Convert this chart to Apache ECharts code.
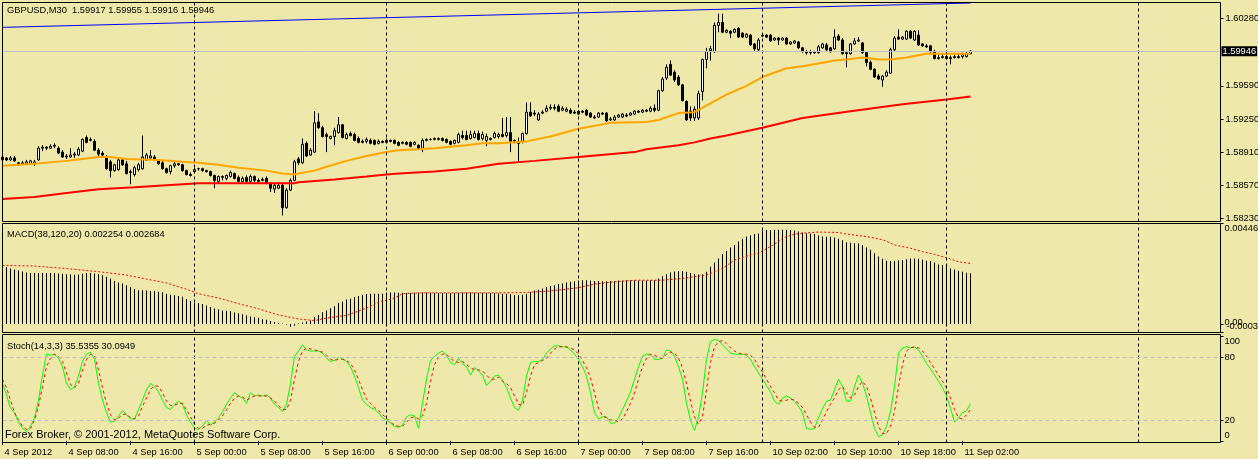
<!DOCTYPE html>
<html><head><meta charset="utf-8">
<script src="https://cdn.jsdelivr.net/npm/echarts@6/dist/echarts.min.js"></script>
<style>html,body{margin:0;padding:0;background:#EEE8AA;}#c{width:1258px;height:459px;}</style>
</head><body><div id="c"></div><script>
// ---- data ----
// candles: [open, close, low, high]
const candles = [
[1.5883,1.5886,1.5882,1.5888],[1.5885,1.5883,1.5882,1.5886],[1.5883,1.5885,1.5882,1.5887],[1.5885,1.5882,1.5881,1.5887],[1.5880,1.5879,1.5877,1.5881],
[1.5879,1.5880,1.5878,1.5882],[1.5879,1.5881,1.5878,1.5883],[1.5879,1.5882,1.5878,1.5883],[1.5879,1.5881,1.5877,1.5883],[1.5883,1.5895,1.5882,1.5897],
[1.5895,1.5896,1.5892,1.5898],[1.5896,1.5895,1.5893,1.5897],[1.5895,1.5897,1.5894,1.5899],[1.5897,1.5898,1.5895,1.5900],[1.5895,1.5890,1.5889,1.5897],
[1.5891,1.5886,1.5885,1.5893],[1.5886,1.5887,1.5884,1.5889],[1.5886,1.5888,1.5885,1.5895],[1.5888,1.5889,1.5885,1.5891],[1.5888,1.5894,1.5887,1.5896],
[1.5892,1.5904,1.5891,1.5905],[1.5906,1.5901,1.5900,1.5908],[1.5903,1.5904,1.5902,1.5906],[1.5902,1.5893,1.5892,1.5904],[1.5893,1.5889,1.5887,1.5895],
[1.5890,1.5888,1.5885,1.5892],[1.5886,1.5874,1.5873,1.5888],[1.5881,1.5872,1.5865,1.5883],[1.5872,1.5878,1.5871,1.5879],[1.5873,1.5883,1.5872,1.5885],
[1.5883,1.5878,1.5877,1.5885],[1.5879,1.5869,1.5868,1.5882],[1.5870,1.5871,1.5858,1.5873],[1.5868,1.5875,1.5866,1.5877],[1.5873,1.5878,1.5871,1.5880],
[1.5874,1.5886,1.5873,1.5908],[1.5883,1.5888,1.5882,1.5890],[1.5885,1.5887,1.5884,1.5893],[1.5886,1.5883,1.5882,1.5888],[1.5883,1.5879,1.5878,1.5884],
[1.5880,1.5874,1.5873,1.5882],[1.5874,1.5870,1.5869,1.5875],[1.5871,1.5877,1.5868,1.5878],[1.5877,1.5879,1.5875,1.5881],[1.5879,1.5878,1.5877,1.5880],
[1.5878,1.5872,1.5871,1.5879],[1.5872,1.5868,1.5867,1.5873],[1.5868,1.5867,1.5866,1.5870],[1.5871,1.5873,1.5870,1.5875],[1.5874,1.5874,1.5872,1.5875],
[1.5874,1.5872,1.5871,1.5875],[1.5872,1.5871,1.5870,1.5873],[1.5871,1.5867,1.5866,1.5872],[1.5867,1.5862,1.5854,1.5868],[1.5861,1.5866,1.5859,1.5867],
[1.5865,1.5866,1.5862,1.5867],[1.5864,1.5867,1.5862,1.5868],[1.5866,1.5870,1.5865,1.5872],[1.5869,1.5864,1.5863,1.5870],[1.5865,1.5861,1.5860,1.5867],
[1.5861,1.5864,1.5860,1.5866],[1.5865,1.5861,1.5860,1.5867],[1.5861,1.5866,1.5859,1.5868],[1.5866,1.5862,1.5860,1.5867],[1.5862,1.5861,1.5859,1.5864],
[1.5862,1.5863,1.5861,1.5865],[1.5864,1.5859,1.5858,1.5866],[1.5859,1.5854,1.5850,1.5860],[1.5853,1.5857,1.5849,1.5859],[1.5854,1.5857,1.5853,1.5860],
[1.5857,1.5834,1.5826,1.5859],[1.5834,1.5852,1.5833,1.5854],[1.5852,1.5862,1.5851,1.5864],[1.5862,1.5881,1.5861,1.5883],[1.5884,1.5880,1.5878,1.5886],
[1.5880,1.5899,1.5879,1.5905],[1.5900,1.5887,1.5886,1.5902],[1.5888,1.5893,1.5887,1.5895],[1.5891,1.5921,1.5890,1.5933],[1.5922,1.5916,1.5915,1.5931],
[1.5916,1.5907,1.5906,1.5918],[1.5909,1.5907,1.5891,1.5911],[1.5905,1.5907,1.5904,1.5908],[1.5907,1.5913,1.5898,1.5916],[1.5911,1.5919,1.5910,1.5927],
[1.5919,1.5906,1.5905,1.5920],[1.5905,1.5909,1.5904,1.5911],[1.5910,1.5908,1.5907,1.5912],[1.5909,1.5903,1.5902,1.5911],[1.5905,1.5901,1.5900,1.5907],
[1.5902,1.5901,1.5900,1.5904],[1.5902,1.5904,1.5900,1.5906],[1.5903,1.5900,1.5899,1.5905],[1.5903,1.5899,1.5898,1.5904],[1.5900,1.5902,1.5899,1.5904],
[1.5902,1.5901,1.5900,1.5903],[1.5901,1.5903,1.5900,1.5905],[1.5903,1.5902,1.5901,1.5904],[1.5903,1.5900,1.5899,1.5904],[1.5901,1.5898,1.5897,1.5902],
[1.5900,1.5901,1.5899,1.5902],[1.5901,1.5899,1.5898,1.5902],[1.5901,1.5897,1.5896,1.5902],[1.5899,1.5901,1.5898,1.5902],[1.5898,1.5895,1.5894,1.5899],
[1.5895,1.5903,1.5891,1.5905],[1.5903,1.5904,1.5902,1.5905],[1.5904,1.5904,1.5903,1.5905],[1.5904,1.5905,1.5903,1.5906],[1.5904,1.5905,1.5903,1.5906],
[1.5905,1.5903,1.5902,1.5906],[1.5904,1.5901,1.5900,1.5905],[1.5902,1.5899,1.5898,1.5903],[1.5900,1.5903,1.5899,1.5904],[1.5901,1.5909,1.5900,1.5911],
[1.5908,1.5906,1.5904,1.5913],[1.5908,1.5904,1.5903,1.5913],[1.5905,1.5909,1.5904,1.5913],[1.5906,1.5910,1.5905,1.5913],[1.5910,1.5904,1.5903,1.5913],
[1.5905,1.5909,1.5903,1.5912],[1.5903,1.5907,1.5897,1.5910],[1.5905,1.5904,1.5903,1.5906],[1.5906,1.5910,1.5905,1.5912],[1.5907,1.5909,1.5905,1.5911],
[1.5909,1.5907,1.5906,1.5926],[1.5908,1.5911,1.5906,1.5927],[1.5911,1.5902,1.5891,1.5927],[1.5902,1.5903,1.5900,1.5904],[1.5901,1.5900,1.5881,1.5906],
[1.5902,1.5910,1.5900,1.5911],[1.5910,1.5932,1.5909,1.5942],[1.5932,1.5928,1.5927,1.5942],[1.5931,1.5930,1.5928,1.5934],[1.5924,1.5930,1.5923,1.5932],
[1.5931,1.5932,1.5930,1.5934],[1.5933,1.5936,1.5932,1.5939],[1.5936,1.5937,1.5934,1.5940],[1.5937,1.5936,1.5934,1.5940],[1.5938,1.5933,1.5932,1.5940],
[1.5934,1.5936,1.5933,1.5938],[1.5933,1.5935,1.5932,1.5937],[1.5934,1.5931,1.5930,1.5936],[1.5932,1.5931,1.5930,1.5934],[1.5930,1.5933,1.5929,1.5934],
[1.5933,1.5932,1.5931,1.5934],[1.5934,1.5929,1.5928,1.5935],[1.5931,1.5927,1.5926,1.5932],[1.5927,1.5926,1.5925,1.5929],[1.5927,1.5931,1.5926,1.5932],
[1.5931,1.5930,1.5929,1.5932],[1.5931,1.5923,1.5922,1.5932],[1.5924,1.5925,1.5923,1.5927],[1.5924,1.5927,1.5923,1.5929],[1.5927,1.5929,1.5926,1.5930],
[1.5927,1.5930,1.5926,1.5931],[1.5929,1.5928,1.5927,1.5931],[1.5929,1.5931,1.5928,1.5932],[1.5930,1.5933,1.5929,1.5934],[1.5933,1.5932,1.5931,1.5934],
[1.5932,1.5934,1.5931,1.5935],[1.5934,1.5933,1.5932,1.5935],[1.5933,1.5936,1.5932,1.5938],[1.5936,1.5934,1.5932,1.5940],[1.5934,1.5954,1.5933,1.5955],
[1.5954,1.5966,1.5953,1.5968],[1.5967,1.5978,1.5965,1.5981],[1.5981,1.5970,1.5969,1.5985],[1.5973,1.5965,1.5963,1.5975],[1.5968,1.5960,1.5959,1.5970],
[1.5960,1.5944,1.5943,1.5961],[1.5943,1.5924,1.5923,1.5944],[1.5933,1.5926,1.5923,1.5938],[1.5926,1.5935,1.5923,1.5938],[1.5926,1.5951,1.5924,1.5954],
[1.5953,1.5986,1.5944,1.5987],[1.5986,1.5994,1.5977,1.5998],[1.5995,1.5997,1.5985,1.6000],[1.5994,1.6021,1.5993,1.6024],[1.6021,1.6024,1.6014,1.6033],
[1.6024,1.6014,1.6013,1.6033],[1.6014,1.6016,1.6013,1.6017],[1.6015,1.6013,1.6008,1.6016],[1.6014,1.6017,1.6013,1.6018],[1.6018,1.6009,1.6008,1.6019],
[1.6013,1.6009,1.6008,1.6014],[1.6009,1.6012,1.6008,1.6013],[1.6011,1.6001,1.6000,1.6012],[1.6002,1.5997,1.5994,1.6003],[1.5996,1.6006,1.5994,1.6008],
[1.6010,1.6011,1.6009,1.6012],[1.6011,1.6009,1.6008,1.6012],[1.6011,1.6005,1.6004,1.6012],[1.6006,1.6008,1.6005,1.6009],[1.6008,1.6006,1.6001,1.6009],
[1.6006,1.6008,1.6005,1.6009],[1.6008,1.6002,1.6001,1.6009],[1.6002,1.6004,1.6001,1.6005],[1.6003,1.6005,1.6002,1.6006],[1.6004,1.5998,1.5997,1.6005],
[1.5998,1.5994,1.5993,1.5999],[1.5994,1.5993,1.5991,1.5996],[1.5993,1.5994,1.5991,1.5996],[1.5994,1.5993,1.5992,1.5995],[1.5993,1.5999,1.5992,1.6001],
[1.5998,1.6002,1.5997,1.6003],[1.6001,1.5996,1.5995,1.6003],[1.5998,1.5994,1.5993,1.5999],[1.5997,1.6009,1.5996,1.6017],[1.6010,1.6006,1.6005,1.6012],
[1.6006,1.5992,1.5991,1.6008],[1.5993,1.5992,1.5978,1.5995],[1.5992,1.6002,1.5991,1.6003],[1.6002,1.6005,1.6001,1.6008],[1.6005,1.6006,1.6004,1.6009],
[1.6003,1.5993,1.5992,1.6004],[1.5993,1.5983,1.5979,1.5994],[1.5983,1.5976,1.5975,1.5985],[1.5976,1.5968,1.5967,1.5977],[1.5969,1.5966,1.5965,1.5971],
[1.5965,1.5969,1.5958,1.5970],[1.5969,1.5973,1.5968,1.5975],[1.5972,1.5996,1.5971,1.5998],[1.5996,1.6008,1.5995,1.6010],[1.6009,1.6007,1.6006,1.6017],
[1.6007,1.6009,1.6006,1.6010],[1.6007,1.6015,1.6006,1.6016],[1.6015,1.6008,1.6007,1.6016],[1.6006,1.6015,1.6005,1.6016],[1.6011,1.6001,1.6000,1.6016],
[1.6002,1.6000,1.5999,1.6003],[1.6000,1.5999,1.5998,1.6002],[1.6000,1.5994,1.5993,1.6001],[1.5994,1.5987,1.5986,1.5996],[1.5987,1.5988,1.5986,1.5991],
[1.5988,1.5989,1.5987,1.5992],[1.5989,1.5987,1.5986,1.5992],[1.5987,1.5988,1.5981,1.5990],[1.5988,1.5989,1.5987,1.5991],[1.5988,1.5989,1.5987,1.5992],
[1.5989,1.5991,1.5987,1.5993],[1.5989,1.5992,1.5988,1.5994],[1.59917,1.59946,1.59916,1.59955]
];
// moving averages and trend line: [barIndex, price]
const maFast = [[0,1.5877],[8,1.5879],[16,1.5882],[20,1.5884],[24,1.5886],[27,1.5886],[31,1.5884],[39,1.5883],[45,1.5881],[49,1.5880],[54,1.5878],[59,1.5875],[66,1.5872],[70,1.5869],[73,1.5868],[74,1.5869],[78,1.5872],[81,1.5876],[86,1.5882],[91,1.5887],[96,1.5891],[99,1.5893],[104,1.5894],[108,1.5895],[116,1.5898],[120,1.5900],[124,1.5900],[131,1.5902],[137,1.5907],[144,1.5915],[152,1.5921],[161,1.5922],[164,1.5924],[169,1.5931],[173,1.5932],[177,1.5941],[181,1.5950],[186,1.5959],[190,1.5968],[196,1.5977],[200,1.5979],[204,1.5982],[208,1.5985],[211,1.5986],[215,1.5988],[219,1.5986],[222,1.5986],[226,1.5988],[231,1.5992],[236,1.5992],[242,1.5992]];
const maSlow = [[0,1.5843],[8,1.5845],[16,1.5849],[24,1.5853],[33,1.5855],[41,1.5857],[49,1.5859],[58,1.5859],[66,1.5859],[73,1.5859],[74,1.5860],[83,1.5863],[91,1.5866],[96,1.5868],[99,1.5869],[108,1.5871],[116,1.5874],[124,1.5879],[133,1.5882],[144,1.5886],[158,1.5891],[161,1.5894],[169,1.5898],[173,1.5901],[177,1.5905],[181,1.5908],[190,1.5916],[200,1.5926],[212,1.5933],[225,1.5940],[236,1.5945],[242,1.5948]];
const trendLine = [[0,1.6019],[242,1.6044]];
const bidPrice = 1.59946;
// MACD histogram per bar
const macdHist = [
0.00257,0.00253,0.00246,0.00242,0.00237,0.00233,0.00228,0.00226,0.00226,0.00226,
0.00226,0.00226,0.00226,0.00226,0.00224,0.00223,0.00221,0.00220,0.00218,0.00220,
0.00223,0.00226,0.00226,0.00224,0.00221,0.00217,0.00209,0.00202,0.00191,0.00184,
0.00179,0.00172,0.00163,0.00155,0.00150,0.00150,0.00148,0.00146,0.00146,0.00143,
0.00141,0.00134,0.00130,0.00127,0.00124,0.00121,0.00111,0.00102,0.00094,0.00093,
0.00088,0.00082,0.00075,0.00069,0.00065,0.00060,0.00058,0.00056,0.00051,0.00047,
0.00043,0.00039,0.00033,0.00030,0.00027,0.00022,0.00018,0.00013,0.00009,0.00004,
0.00001,-0.00003,-0.00013,-0.00008,0.00002,0.00006,0.00011,0.00015,0.00030,0.00040,
0.00052,0.00060,0.00070,0.00079,0.00094,0.00100,0.00109,0.00112,0.00120,0.00124,
0.00130,0.00133,0.00134,0.00134,0.00134,0.00134,0.00139,0.00139,0.00139,0.00138,
0.00138,0.00137,0.00137,0.00138,0.00138,0.00139,0.00139,0.00138,0.00138,0.00137,
0.00137,0.00137,0.00136,0.00137,0.00138,0.00139,0.00139,0.00139,0.00138,0.00138,
0.00138,0.00138,0.00137,0.00137,0.00136,0.00134,0.00134,0.00132,0.00129,0.00129,
0.00130,0.00134,0.00142,0.00148,0.00152,0.00157,0.00163,0.00168,0.00172,0.00177,
0.00179,0.00184,0.00187,0.00190,0.00193,0.00194,0.00194,0.00193,0.00191,0.00191,
0.00190,0.00190,0.00191,0.00191,0.00193,0.00193,0.00194,0.00194,0.00194,0.00193,
0.00193,0.00193,0.00194,0.00194,0.00202,0.00212,0.00221,0.00228,0.00233,0.00235,
0.00235,0.00232,0.00226,0.00221,0.00220,0.00221,0.00232,0.00254,0.00273,0.00291,
0.00309,0.00324,0.00339,0.00351,0.00366,0.00378,0.00388,0.00394,0.00399,0.00402,
0.00415,0.00417,0.00417,0.00418,0.00418,0.00418,0.00418,0.00417,0.00415,0.00411,
0.00406,0.00403,0.00402,0.00399,0.00393,0.00388,0.00387,0.00387,0.00384,0.00378,
0.00372,0.00363,0.00360,0.00358,0.00357,0.00351,0.00339,0.00329,0.00314,0.00299,
0.00289,0.00281,0.00280,0.00281,0.00282,0.00284,0.00287,0.00290,0.00290,0.00289,
0.00285,0.00281,0.00280,0.00273,0.00264,0.00262,0.00258,0.00246,0.00242,0.00236,
0.00232,0.00227,0.002254
];
// MACD signal: [barIndex, value]
const macdSignal = [[0,0.00260],[8,0.00257],[16,0.00246],[24,0.00232],[31,0.00217],[36,0.00199],[41,0.00182],[46,0.00154],[49,0.00134],[54,0.00115],[59,0.00090],[64,0.00067],[69,0.00040],[74,0.00022],[78,0.00015],[81,0.00026],[86,0.00038],[91,0.00070],[94,0.00097],[98,0.00115],[100,0.00134],[104,0.00138],[124,0.00138],[130,0.00139],[136,0.00145],[140,0.00152],[144,0.00161],[148,0.00177],[153,0.00187],[158,0.00194],[165,0.00194],[170,0.00202],[176,0.00217],[180,0.00246],[183,0.00284],[187,0.00306],[189,0.00314],[193,0.00354],[195,0.00381],[198,0.00399],[200,0.00403],[204,0.00408],[209,0.00406],[211,0.00399],[216,0.00388],[220,0.00374],[223,0.00351],[227,0.00336],[230,0.00321],[233,0.00309],[236,0.00294],[239,0.00276],[242,0.002684]];
// Stochastic main / signal per bar
const stochMain = [
55,44,31,27,18,12,9,14,22,39, 63,83,82,83,79,71,55,49,52,62, 76,83,85,78,55,39,27,18,19,24,
29,25,21,21,30,39,49,55,52,47, 39,32,30,35,38,35,25,18,12,11, 14,20,15,18,22,28,35,41,46,43,
41,36,46,43,44,43,44,41,35,32, 28,35,55,81,86,92,87,86,86,86, 84,79,76,77,80,79,76,71,62,51,
39,35,32,30,27,22,20,17,14,13, 15,23,25,24,12,36,59,77,81,84, 86,82,75,73,79,74,71,63,70,67,
63,53,57,62,63,58,51,41,32,29, 39,62,75,76,76,78,84,88,91,91, 90,90,87,83,78,71,62,46,27,21,
23,23,17,17,22,30,38,47,59,71, 81,83,83,78,78,79,87,86,81,71, 59,36,20,10,23,46,78,95,97,96,
92,88,84,83,83,83,82,78,71,65, 59,53,47,38,35,41,43,41,38,33, 27,12,11,12,22,31,38,39,49,59,
52,38,38,52,63,55,43,27,12,4, 6,14,28,52,84,89,90,89,90,87, 81,74,69,63,57,51,43,31,18,22,
27,29,35.5355
];
const stochSignal = [
59,51,39,27,20,14,11,12,20,33, 52,71,79,83,81,76,65,54,51,55, 68,78,83,81,68,51,36,25,20,22,
25,26,22,21,24,33,41,49,53,52, 46,38,34,34,36,36,30,23,16,12, 12,15,16,17,20,24,30,36,41,43,
42,39,41,43,43,43,43,41,38,34, 30,30,39,59,76,86,89,88,87,86, 85,82,78,77,78,78,77,74,68,59,
49,40,36,32,29,25,22,18,15,14, 14,18,22,23,21,24,36,57,73,80, 83,83,79,76,75,76,73,70,68,68,
67,63,59,59,61,57,55,51,43,35, 34,46,62,73,75,77,79,84,88,90, 90,90,89,87,83,77,70,60,46,31,
24,22,20,20,18,21,28,36,46,59, 71,79,83,82,80,79,83,85,84,79, 70,55,38,23,16,23,49,75,90,95,
96,93,89,86,84,83,83,82,78,71, 66,59,52,46,39,38,39,40,39,36, 32,25,18,13,13,20,28,35,41,49,
52,46,41,44,52,57,52,41,27,14, 7,7,14,28,52,73,86,89,90,89, 86,81,75,69,63,57,51,41,30,22,
21,25,30.0949
];
const stochLevels = [20, 80];
// axis tick labels
const timeLabels = ['4 Sep 2012','4 Sep 08:00','4 Sep 16:00','5 Sep 00:00','5 Sep 08:00','5 Sep 16:00','6 Sep 00:00','6 Sep 08:00','6 Sep 16:00','7 Sep 00:00','7 Sep 08:00','7 Sep 16:00','10 Sep 02:00','10 Sep 10:00','10 Sep 18:00','11 Sep 02:00'];
const labelEvery = 16;
const gridBars = [48, 96, 144, 190, 236, 284];
const priceTicks = [1.6028, 1.5959, 1.5925, 1.5891, 1.5857, 1.5823];
const macdTicks = [0.00446, 0, -0.00038];
const stochTicks = [100, 80, 20, 0];
const slotCount = 305;

// ---- chart ----
const cats = Array.from({length: slotCount}, (_, i) => i);
const FONT = "'Liberation Sans', Arial, sans-serif";
const txt = {color: '#000', fontFamily: FONT, fontSize: 9.3};
const near = (a, b) => Math.abs(a - b) < 1e-7;
const last = candles[candles.length - 1];
const vLines = gridBars.map(b => ({xAxis: b}));
const mlBase = {silent: true, symbol: ['none', 'none'], precision: 6, label: {show: false},
  lineStyle: {color: '#000', type: [3, 3], width: 1}, emphasis: {disabled: true}, animation: false};
const showTick = i => i % labelEvery === 0 && i / labelEvery < timeLabels.length;
const macdEdge = macdTicks.filter(v => v !== 0);
const macdZero = macdTicks.filter(v => v === 0);
const macdMin = -0.000381, macdMax = 0.00446;

const titleStyle = {fontSize: 9.3, fontWeight: 'normal', color: '#000', fontFamily: FONT};
const option = {
  backgroundColor: '#EEE8AA',
  animation: false,
  title: [
    {text: 'GBPUSD,M30  ' + [last[0], last[3], last[2], last[1]].map(v => v.toFixed(5)).join(' '), left: 7, top: 6, padding: 0, textStyle: titleStyle},
    {text: 'MACD(38,120,20) ' + macdHist[macdHist.length - 1].toFixed(6) + ' ' + macdSignal[macdSignal.length - 1][1].toFixed(6), left: 7, top: 229.5, padding: 0, textStyle: titleStyle},
    {text: 'Stoch(14,3,3) ' + stochMain[stochMain.length - 1].toFixed(4) + ' ' + stochSignal[stochSignal.length - 1].toFixed(4), left: 7, top: 341.5, padding: 0, textStyle: titleStyle},
    {text: 'Forex Broker, \u00A9 2001-2012, MetaQuotes Software Corp.', left: 5, top: 429.5, padding: 0, textStyle: Object.assign({}, titleStyle, {fontSize: 11})}
  ],
  grid: [
    {left: 2.5, top: 2.5, width: 1216, height: 219, show: false, containLabel: false, outerBoundsMode: 'none'},
    {left: 2.5, top: 223.5, width: 1216, height: 109, show: false, containLabel: false, outerBoundsMode: 'none'},
    {left: 2.5, top: 334.5, width: 1216, height: 108, show: false, containLabel: false, outerBoundsMode: 'none'}
  ],
  graphic: [
    {type: 'rect', silent: true, z: 100, shape: {x: 2.5, y: 2.5, width: 1218, height: 219}, style: {fill: 'none', stroke: '#000', lineWidth: 1}},
    {type: 'rect', silent: true, z: 100, shape: {x: 2.5, y: 223.5, width: 1218, height: 109}, style: {fill: 'none', stroke: '#000', lineWidth: 1}},
    {type: 'rect', silent: true, z: 100, shape: {x: 2.5, y: 334.5, width: 1218, height: 108}, style: {fill: 'none', stroke: '#000', lineWidth: 1}}
  ],
  xAxis: [
    {type: 'category', gridIndex: 0, data: cats, boundaryGap: false, show: false},
    {type: 'category', gridIndex: 1, data: cats, boundaryGap: false, show: false},
    {type: 'category', gridIndex: 2, data: cats, boundaryGap: false,
      axisLine: {show: false}, splitLine: {show: false},
      axisTick: {show: true, length: 4, interval: showTick, lineStyle: {color: '#000', width: 1}},
      axisLabel: Object.assign({show: true, interval: showTick, align: 'left', margin: 5, padding: [0, 0, 0, 2], hideOverlap: false,
        formatter: (v, i) => timeLabels[i / labelEvery] || ''}, txt)}
  ],
  yAxis: [
    {type: 'value', gridIndex: 0, position: 'right', offset: 2, min: 1.58198, max: 1.60445,
      splitLine: {show: false}, axisLine: {show: false},
      axisTick: {show: true, length: 3, customValues: priceTicks, lineStyle: {color: '#000'}},
      axisLabel: Object.assign({customValues: priceTicks, margin: 5, hideOverlap: false, formatter: v => v.toFixed(5)}, txt)},
    {type: 'value', gridIndex: 1, position: 'right', offset: 2, min: macdMin, max: macdMax,
      splitLine: {show: false}, axisLine: {show: false},
      axisTick: {show: true, length: 3, customValues: macdEdge, lineStyle: {color: '#000'}},
      axisLabel: Object.assign({customValues: macdEdge, margin: 4, hideOverlap: false, showMinLabel: true, showMaxLabel: true,
        formatter: v => near(v, macdTicks[0]) ? '{t|' + v.toFixed(5) + '}' : '{b|' + v.toFixed(5) + '}',
        rich: {t: Object.assign({padding: [10, 0, 0, 0]}, txt), b: Object.assign({padding: [0, 0, 12, 2]}, txt)}}, txt)},
    {type: 'value', gridIndex: 2, position: 'right', offset: 2, min: -1.53, max: 101.8,
      splitLine: {show: false}, axisLine: {show: false},
      axisTick: {show: true, length: 3, customValues: stochTicks, lineStyle: {color: '#000'}},
      axisLabel: Object.assign({customValues: stochTicks, margin: 4, hideOverlap: false,
        formatter: v => near(v, 100) ? '{t|100}' : (near(v, 0) ? '{b|0}' : String(v)),
        rich: {t: Object.assign({padding: [10, 0, 0, 0]}, txt), b: Object.assign({padding: [0, 0, 11, 0]}, txt)}}, txt)},
    {type: 'value', gridIndex: 1, position: 'right', offset: 2, min: macdMin, max: macdMax,
      splitLine: {show: false}, axisLine: {show: false},
      axisTick: {show: true, length: 3, customValues: macdZero, lineStyle: {color: '#000'}},
      axisLabel: Object.assign({customValues: macdZero, margin: 4, hideOverlap: false, showMinLabel: true, showMaxLabel: true,
        formatter: () => '{z|0.00}', rich: {z: Object.assign({padding: [0, 0, 3, 0]}, txt)}}, txt)}
  ],
  series: [
    {type: 'candlestick', xAxisIndex: 0, yAxisIndex: 0, data: candles, barWidth: 2, z: 2, silent: true,
      itemStyle: {color: '#FFFFFF', color0: '#000000', borderColor: '#000000', borderColor0: '#000000', borderColorDoji: '#000000', borderWidth: 1},
      markLine: Object.assign({}, mlBase, {data: vLines})},
    {type: 'line', xAxisIndex: 0, yAxisIndex: 0, data: trendLine, symbol: 'none', silent: true, z: 3, lineStyle: {color: '#0000FF', width: 1},
      markLine: Object.assign({}, mlBase, {data: [{yAxis: bidPrice, lineStyle: {color: '#C0C0C0', type: 'solid', width: 1},
        label: {show: true, position: 'end', formatter: bidPrice.toFixed(5), distance: 3, color: '#FFFFFF', backgroundColor: '#000000', padding: [1, 1, 0, 1], fontFamily: FONT, fontSize: 9.3}}]})},
    {type: 'line', xAxisIndex: 0, yAxisIndex: 0, data: maSlow, symbol: 'none', silent: true, z: 3, lineStyle: {color: '#FF0000', width: 2}},
    {type: 'line', xAxisIndex: 0, yAxisIndex: 0, data: maFast, symbol: 'none', silent: true, z: 3, lineStyle: {color: '#FFA500', width: 2}},
    {type: 'bar', xAxisIndex: 1, yAxisIndex: 1, data: macdHist, barWidth: 1, silent: true, itemStyle: {color: '#000000'},
      markLine: Object.assign({}, mlBase, {data: vLines})},
    {type: 'line', xAxisIndex: 1, yAxisIndex: 1, data: macdSignal, symbol: 'none', silent: true, z: 3, lineStyle: {color: '#FF0000', width: 1, type: [2, 2]}},
    {type: 'line', xAxisIndex: 2, yAxisIndex: 2, data: stochMain, symbol: 'none', silent: true, z: 3, lineStyle: {color: '#00FF00', width: 1},
      markLine: Object.assign({}, mlBase, {data: vLines.concat(stochLevels.map(v => ({yAxis: v, lineStyle: {color: '#C0C0C0', type: [4, 3], width: 1}})))})},
    {type: 'line', xAxisIndex: 2, yAxisIndex: 2, data: stochSignal, symbol: 'none', silent: true, z: 4, lineStyle: {color: '#FF0000', width: 1, type: [3, 3]}}
  ]
};
const chart = echarts.init(document.getElementById('c'), null, {renderer: 'canvas'});
chart.setOption(option);
</script></body></html>
